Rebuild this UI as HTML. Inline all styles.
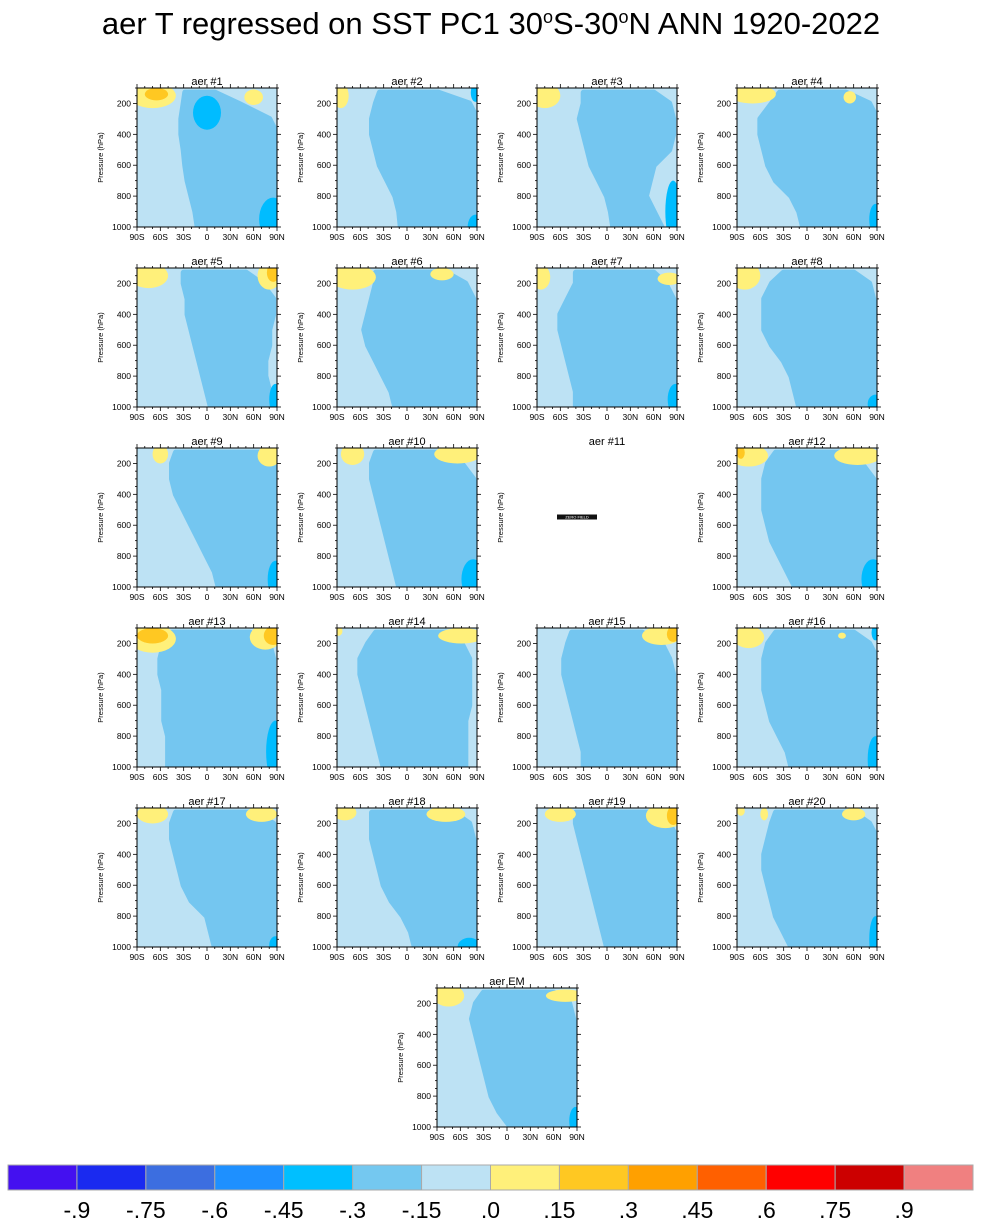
<!DOCTYPE html>
<html><head><meta charset="utf-8"><style>
body{margin:0;background:#fff;}
svg{display:block;font-family:"Liberation Sans",Arial,sans-serif;}
</style></head><body>
<svg id="fig" width="982" height="1226" viewBox="0 0 982 1226">
<text x="491" y="34" text-anchor="middle" font-size="31">aer T regressed on SST PC1 30<tspan dy="-11" font-size="18">o</tspan><tspan dy="11">S-30</tspan><tspan dy="-11" font-size="18">o</tspan><tspan dy="11">N ANN 1920-2022</tspan></text>
</svg>
<script>
const NS="http://www.w3.org/2000/svg";
const svg=document.getElementById('fig');
const levels=[130,200,300,400,500,600,700,800,900,1000];
const latTicks=[-90,-60,-30,0,30,60,90];
const latLabels=["90S","60S","30S","0","30N","60N","90N"];
const presTicks=[200,400,600,800,1000];
const panelTitles=["aer #1","aer #2","aer #3","aer #4","aer #5","aer #6","aer #7","aer #8","aer #9","aer #10","aer #11","aer #12","aer #13","aer #14","aer #15","aer #16","aer #17","aer #18","aer #19","aer #20","aer EM"];
const coreLeft=[
[-28,-30,-33,-33,-30,-28,-25,-20,-15,-12],[-35,-40,-45,-45,-40,-35,-25,-15,-10,-8],[-30,-30,-35,-30,-25,-20,-10,0,5,8],[-35,-45,-60,-60,-55,-50,-40,-20,-10,-5],
[-30,-30,-25,-25,-20,-15,-10,-5,0,5],[-40,-40,-45,-50,-55,-50,-40,-30,-20,-15],[-40,-40,-50,-60,-60,-55,-50,-45,-40,-40],[-30,-45,-55,-55,-55,-45,-30,-20,-15,-10],
[-40,-45,-45,-40,-30,-20,-10,0,10,15],[-40,-45,-45,-40,-35,-30,-25,-20,-15,-10],null,[-40,-50,-55,-55,-55,-50,-45,-35,-25,-15],
[-45,-55,-60,-60,-55,-55,-55,-50,-50,-50],[-40,-50,-60,-60,-55,-50,-45,-40,-35,-30],[-45,-50,-55,-55,-50,-45,-40,-35,-30,-30],[-40,-50,-55,-55,-55,-50,-45,-35,-25,-20],
[-40,-45,-45,-40,-35,-30,-20,0,5,10],[-45,-45,-45,-40,-35,-30,-20,-5,5,10],[-40,-40,-35,-30,-25,-20,-15,-10,-5,0],[-40,-45,-50,-55,-55,-50,-45,-40,-30,-20],
[-30,-40,-45,-40,-35,-30,-25,-20,-10,5]];
const coreRight=[
[10,40,80,90,90,90,90,90,90,90],[40,80,90,90,90,90,90,90,90,90],[60,80,85,85,80,60,55,50,60,70],[50,80,90,90,90,90,90,90,90,90],
[50,70,85,85,80,80,75,75,80,85],[50,75,85,85,85,85,85,85,85,85],[60,75,85,90,90,90,90,90,90,90],[60,80,85,90,90,90,90,90,90,90],
[70,85,90,90,90,90,90,90,90,90],[50,70,85,90,90,90,90,90,90,90],null,[50,70,85,90,90,90,90,90,90,90],
[55,80,85,85,85,85,85,85,85,85],[55,70,80,80,80,80,75,75,75,75],[45,70,80,85,85,85,85,85,85,85],[60,80,90,90,90,90,90,90,90,90],
[60,85,90,90,90,90,90,90,90,90],[60,80,85,90,90,90,90,90,90,90],[55,80,90,90,90,90,90,90,90,90],[60,80,90,90,90,90,90,90,90,90],
[60,80,85,90,90,90,90,90,90,90]];
const yellowBlobs=[
[[-70,150,30,80],[60,160,12,50]],[[-85,150,10,80]],[[-80,150,20,80]],[[-70,140,30,60],[55,160,8,40]],
[[-75,150,25,80],[80,150,15,90]],[[-70,160,30,80],[45,140,15,40]],[[-85,160,12,80],[80,170,15,40]],[[-80,150,20,90]],
[[-60,140,10,60],[80,150,15,70]],[[-70,140,15,70],[65,140,30,60]],[],[[-75,150,25,70],[65,150,30,60]],
[[-70,170,30,90],[75,160,20,80]],[[70,150,30,50],[-88,120,5,30]],[[70,150,25,60]],[[-75,160,20,70],[45,150,5,20]],
[[-70,140,20,60],[70,140,20,50]],[[-80,130,15,50],[50,140,25,50]],[[-60,140,20,50],[75,150,25,80]],[[-85,120,5,30],[-55,140,5,40],[60,140,15,40]],
[[-75,150,20,70],[75,150,25,40]]];
const orangeBlobs=[[[-65,140,15,40]],[],[],[],[[85,130,8,60]],[],[],[],[],[],[],[[-85,130,5,40]],[[-70,150,20,50],[85,150,12,60]],[],[[85,140,8,50]],[],[],[],[[85,150,8,60]],[],[]];
const darkBlobs=[[[0,260,18,110],[85,950,18,140]],[[88,130,6,60],[88,1000,10,80]],[[85,900,10,200]],[[88,950,8,100]],[[88,950,8,100]],[],[[88,950,10,100]],[[88,980,10,60]],[[88,950,10,120]],[[85,950,15,130]],[],[[85,950,15,130]],[[88,900,12,200]],[],[],[[88,130,5,50],[88,950,10,150]],[[88,990,8,60]],[[80,1000,15,60]],[],[[88,950,8,150]],[[88,960,8,90]]];
const cbValues=["-.9","-.75","-.6","-.45","-.3","-.15",".0",".15",".3",".45",".6",".75",".9"];
const cbColors=["#4410F0","#1A2AF0","#3C6EE0","#1E90FF","#00BFFF","#74C8F0","#BDE2F4","#FFF07A","#FFC822","#FFA000","#FF6000","#FF0000","#CC0000","#F08080"];
const C_LIGHT="#BDE2F4",C_MED="#74C6F0",C_DARK="#00BCFF",C_Y="#FFF07A",C_O="#FFC822";
function el(t,a,p){const e=document.createElementNS(NS,t);for(const k in a)e.setAttribute(k,a[k]);(p||svg).appendChild(e);return e;}
const W=140,H=139;
function panel(i,ox,oy){
  const g=el('g',{});
  
  
  const xs=lat=>ox+(lat+90)/180*W, ys=p=>oy+(p-100)/900*H;
  const t=el('text',{x:ox+W/2,y:oy-3,'text-anchor':'middle','font-size':11},g);t.textContent=panelTitles[i];
  
  
  const yl=el('text',{x:0,y:0,'text-anchor':'middle','font-size':7.5,transform:`translate(${ox-34},${oy+H/2}) rotate(-90)`},g);yl.textContent="Pressure (hPa)";
  
  
  if(!coreLeft[i]){
    const r=el('rect',{x:ox+20,y:oy+H/2-3,width:40,height:5,fill:'#111'},g);
    const zt=el('text',{x:ox+40,y:oy+H/2+1,'text-anchor':'middle','font-size':4,fill:'#fff'},g);zt.textContent="ZERO FIELD";
    
    
    return;
  }
  const cid='clip'+i;
  const cp=el('clipPath',{id:cid},g);el('rect',{x:ox,y:oy,width:W,height:H},cp);
  const cg=el('g',{'clip-path':`url(#${cid})`},g);
  el('rect',{x:ox,y:oy,width:W,height:H,fill:C_LIGHT},cg);
  let d='';
  coreLeft[i].forEach((v,k)=>{d+=(k?'L':'M')+xs(v)+','+ys(levels[k]);});
  d+='L'+xs(coreLeft[i][9])+','+(oy+H+5)+'L'+xs(coreRight[i][9])+','+(oy+H+5);
  for(let k=9;k>=0;k--)d+='L'+xs(coreRight[i][k])+','+ys(levels[k]);
  d+='Z';
  const core=el('path',{d,fill:C_MED,stroke:C_MED,'stroke-width':6,'stroke-linejoin':'round'},cg);
  
  
  const blob=(arr,col,name)=>arr.forEach(b=>{const e=el('ellipse',{cx:xs(b[0]),cy:ys(b[1]),rx:b[2]/180*W,ry:b[3]/900*H,fill:col},cg);
    
    });
  blob(darkBlobs[i],C_DARK,'contour-strong-negative');
  blob(yellowBlobs[i],C_Y,'contour-positive');
  blob(orangeBlobs[i],C_O,'contour-strong-positive');
  el('rect',{x:ox,y:oy,width:W,height:H,fill:'none',stroke:'#000','stroke-width':1},g);
  for(let lat=-90;lat<=90;lat+=10){const x=xs(lat),m=(lat%30===0)?4:2;
    el('line',{x1:x,y1:oy+H,x2:x,y2:oy+H+m,stroke:'#000','stroke-width':0.8},g);
    el('line',{x1:x,y1:oy,x2:x,y2:oy-m,stroke:'#000','stroke-width':0.8},g);}
  for(let p=100;p<=1000;p+=50){const y=ys(p),m=(p%200===0)?4:2;
    el('line',{x1:ox,y1:y,x2:ox-m,y2:y,stroke:'#000','stroke-width':0.8},g);
    el('line',{x1:ox+W,y1:y,x2:ox+W+m,y2:y,stroke:'#000','stroke-width':0.8},g);}
  latTicks.forEach((v,k)=>{const tt=el('text',{x:xs(v),y:oy+H+13,'text-anchor':'middle','font-size':8.5},g);tt.textContent=latLabels[k];
    
    });
  presTicks.forEach(p=>{const tt=el('text',{x:ox-6,y:ys(p)+3,'text-anchor':'end','font-size':8.5},g);tt.textContent=p;
    
    });
}
for(let i=0;i<20;i++)panel(i,137+200*(i%4),88+180*Math.floor(i/4));
panel(20,437,988);
const cb=el('g',{});


const bw=965/14;
cbColors.forEach((c,k)=>{const r=el('rect',{x:8+k*bw,y:1165,width:bw,height:25,fill:c,stroke:'#aaa','stroke-width':1},cb);
  
  });
cbValues.forEach((v,k)=>{const t=el('text',{x:8+(k+1)*bw,y:1218,'text-anchor':'middle','font-size':23},cb);t.textContent=v;
  
  });
</script>
</body></html>
